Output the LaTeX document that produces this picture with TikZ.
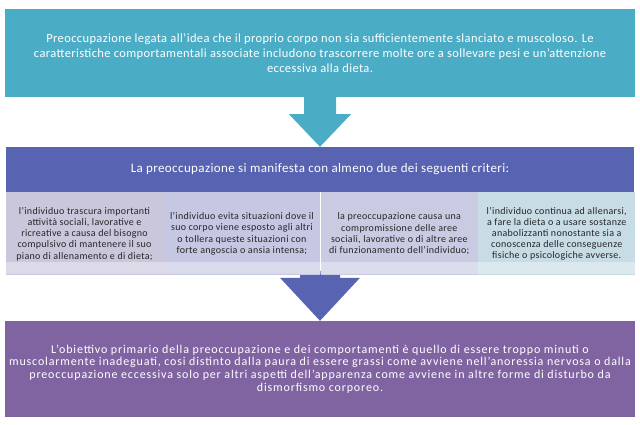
\documentclass[tikz,border=0pt]{standalone}
\usepackage{fontspec}
\setmainfont{Carlito}
\usetikzlibrary{positioning,calc}

\definecolor{acqua}{HTML}{4BACC6}
\definecolor{indaco}{HTML}{5864B2}
\definecolor{viola}{HTML}{8064A2}
\definecolor{lillaA}{HTML}{CAC7DC}
\definecolor{lillaB}{HTML}{C6C8E3}
\definecolor{lillaC}{HTML}{C9CBE3}
\definecolor{celeste}{HTML}{C8DCE6}

\begin{document}
\begin{tikzpicture}[x=1pt,y=-1pt,
  blocco/.style={rectangle, inner sep=0pt, text=white, align=center, minimum width=630pt,
    font=\fontsize{12.5}{15}\selectfont\addfontfeatures{LetterSpace=3}},
  criterio/.style={rectangle, inner sep=0pt, minimum width=157pt, minimum height=83pt, align=center, text=black!85,
    font=\fontsize{10}{11.2}\selectfont\addfontfeatures{LetterSpace=3}},
  riflesso/.style={white, opacity=0.35}]
\useasboundingbox (0,0) rectangle (640,425);

  \node[blocco, fill=acqua, minimum height=88pt] (alto) at (320,53)
    {Preoccupazione legata all’idea che il proprio corpo non sia sufficientemente slanciato e muscoloso. Le\\
     caratteristiche comportamentali associate includono trascorrere molte ore a sollevare pesi e un’attenzione\\
     eccessiva alla dieta.};
  \node[blocco, fill=indaco, minimum width=628pt, minimum height=45pt,
    font=\fontsize{13}{15}\selectfont\addfontfeatures{LetterSpace=3}] (titolo) at (320,169.5)
    {La preoccupazione si manifesta con almeno due dei seguenti criteri:};
  \node[blocco, fill=viola, minimum height=96pt,
    font=\fontsize{12}{12.8}\selectfont\addfontfeatures{LetterSpace=7}] (basso) at (320,369)
    {L’obiettivo primario della preoccupazione e dei comportamenti è quello di essere troppo minuti o\\
     muscolarmente inadeguati, cosi distinto dalla paura di essere grassi come avviene nell’anoressia nervosa o dalla\\
     preoccupazione eccessiva solo per altri aspetti dell’apparenza come avviene in altre forme di disturbo da\\
     dismorfismo corporeo.};

  % frecce a blocco
  \fill[acqua] ($(alto.south)+(-16,0)$) -- ($(alto.south)+(-16,17)$) -- ($(alto.south)+(-31,17)$)
    -- (titolo.north) -- ($(alto.south)+(31,17)$) -- ($(alto.south)+(16,17)$) -- ($(alto.south)+(16,0)$) -- cycle;
  \fill[indaco] ($(basso.north)+(-20,-50)$) -- ($(basso.north)+(-20,-43)$) -- ($(basso.north)+(-40,-43)$)
    -- (basso.north) -- ($(basso.north)+(40,-43)$) -- ($(basso.north)+(20,-43)$) -- ($(basso.north)+(20,-50)$) -- cycle;

  % criteri
  \node[criterio, fill=lillaA, anchor=north west] (c1) at (titolo.south west)
    {l’individuo trascura importanti\\ attività sociali, lavorative e\\ ricreative a causa del bisogno\\
     compulsivo di mantenere il suo\\ piano di allenamento e di dieta;};
  \node[criterio, fill=lillaB, right=0pt of c1] (c2)
    {l’individuo evita situazioni dove il\\ suo corpo viene esposto agli altri\\ o tollera queste situazioni con\\
     forte angoscia o ansia intensa;};
  \node[criterio, fill=lillaC, right=0pt of c2] (c3)
    {la preoccupazione causa una\\ compromissione delle aree\\ sociali, lavorative o di altre aree\\
     di funzionamento dell’individuo;};
  \node[criterio, fill=celeste, right=0pt of c3] (c4)
    {l’individuo continua ad allenarsi,\\ a fare la dieta o a usare sostanze\\ anabolizzanti nonostante sia a\\
     conoscenza delle conseguenze\\ fisiche o psicologiche avverse.};
  \foreach \c in {c1,c2,c3,c4}
    \fill[riflesso] ($(\c.south west)+(0,-14)$) rectangle ($(\c.south east)+(0,-2)$);
\end{tikzpicture}
\end{document}
